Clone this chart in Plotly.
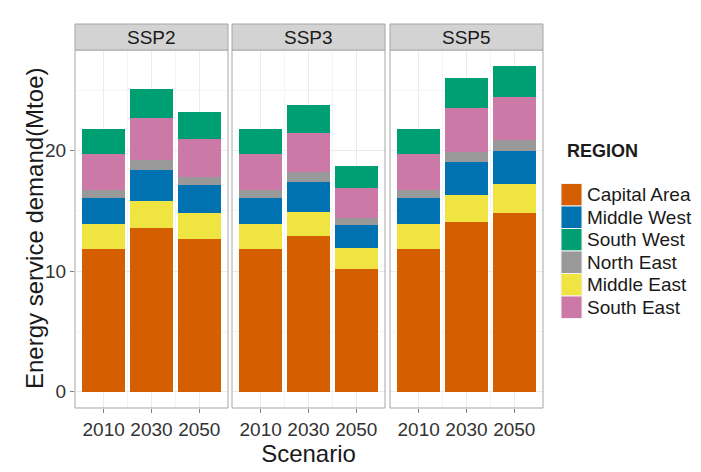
import plotly.graph_objects as go

# ---------------- data ----------------
scenarios = ["SSP2", "SSP3", "SSP5"]
years = ["2010", "2030", "2050"]

# stacking order (bottom -> top)
stack_regions = ["Capital Area", "Middle East", "Middle West", "North East", "South East", "South West"]
# legend order
legend_regions = ["Capital Area", "Middle West", "South West", "North East", "Middle East", "South East"]

# values per region: SSP2 (2010, 2030, 2050), SSP3 (...), SSP5 (...)
capital_area = [11.8, 13.6, 12.7, 11.8, 12.9, 10.2, 11.8, 14.1, 14.8]
middle_east  = [2.1, 2.2, 2.1, 2.1, 2.0, 1.7, 2.1, 2.2, 2.4]
middle_west  = [2.2, 2.6, 2.35, 2.2, 2.5, 1.95, 2.2, 2.75, 2.75]
north_east   = [0.6, 0.8, 0.7, 0.6, 0.8, 0.6, 0.6, 0.85, 0.9]
south_east   = [3.0, 3.5, 3.1, 3.0, 3.3, 2.45, 3.0, 3.6, 3.6]
south_west   = [2.1, 2.4, 2.25, 2.1, 2.25, 1.85, 2.1, 2.55, 2.6]

region_values = {
    "Capital Area": capital_area,
    "Middle East": middle_east,
    "Middle West": middle_west,
    "North East": north_east,
    "South East": south_east,
    "South West": south_west,
}

colors = {
    "Capital Area": "#D55E00",
    "Middle West": "#0072B2",
    "South West": "#009E73",
    "North East": "#999999",
    "Middle East": "#F0E442",
    "South East": "#CC79A7",
}

y_ticks = [0, 10, 20]

# ---------------- layout helpers ----------------
W, H = 701, 472
ML, MR, MT, MB = 75, 158, 24, 64
PW = W - ML - MR
PH = H - MT - MB


def px_x(px):
    return (px - ML) / PW


def px_y(py):
    return (H - MB - py) / PH


panel_px = [(75, 228), (232, 385), (390, 543)]
panel_bottom, panel_top, strip_top = 408, 50, 24
ydom = [0, px_y(panel_top)]

FONT = "Liberation Sans, Arial, sans-serif"

fig = go.Figure()
axis_names = ["x", "x2", "x3"]
for si, scen in enumerate(scenarios):
    for reg in stack_regions:
        vals = region_values[reg][si * 3:(si + 1) * 3]
        fig.add_trace(go.Bar(
            x=years, y=vals, name=reg,
            marker=dict(color=colors[reg], line=dict(width=0)),
            xaxis=axis_names[si], yaxis="y",
            showlegend=False,
            hovertemplate=scen + " %{x}<br>" + reg + ": %{y}<extra></extra>",
        ))

xcommon = dict(
    type="category", range=[-0.6, 2.6],
    showgrid=True, gridcolor="#ebebeb", gridwidth=1,
    ticks="outside", ticklen=4, tickcolor="#7f7f7f",
    tickfont=dict(family=FONT, size=19, color="#333333"),
    showline=False, zeroline=False, anchor="y", fixedrange=True,
)

layout_axes = {}
for si, name in enumerate(["xaxis", "xaxis2", "xaxis3"]):
    x0, x1 = panel_px[si]
    ax = dict(xcommon)
    ax["domain"] = [px_x(x0), px_x(x1)]
    if si == 1:
        ax["title"] = dict(text="Scenario", font=dict(family=FONT, size=24, color="#1a1a1a"), standoff=0)
    layout_axes[name] = ax

fig.update_layout(**layout_axes)
fig.update_layout(
    yaxis=dict(
        domain=ydom, range=[-1.35, 28.35], anchor="x",
        tickvals=y_ticks, ticktext=[str(v) for v in y_ticks],
        showgrid=True, gridcolor="#ebebeb", gridwidth=1,
        minor=dict(tickvals=[5, 15, 25], showgrid=True, gridcolor="#f5f5f5", ticks=""),
        ticks="outside", ticklen=4, tickcolor="#7f7f7f",
        tickfont=dict(family=FONT, size=19, color="#333333"),
        zeroline=False, showline=False, fixedrange=True,
    ),
    barmode="stack", bargap=0.1,
    width=W, height=H,
    margin=dict(l=ML, r=MR, t=MT, b=MB, autoexpand=False),
    paper_bgcolor="white", plot_bgcolor="white",
    showlegend=False,
)

shapes = []
annotations = []
for si, scen in enumerate(scenarios):
    xr = axis_names[si] + " domain"
    # minor vertical grid lines between categories
    for xm in (0.5, 1.5):
        shapes.append(dict(type="line", xref=axis_names[si], yref="y domain", x0=xm, x1=xm, y0=0, y1=1,
                           line=dict(color="#f5f5f5", width=1), layer="below"))
    # panel border
    shapes.append(dict(type="rect", xref=xr, yref="y domain", x0=0, x1=1, y0=0, y1=1,
                       line=dict(color="#a6a6a6", width=1), fillcolor="rgba(0,0,0,0)", layer="above"))
    # strip
    shapes.append(dict(type="rect", xref=xr, yref="paper", x0=0, x1=1, y0=ydom[1], y1=1,
                       line=dict(color="#a6a6a6", width=1), fillcolor="#d3d3d3", layer="above"))
    annotations.append(dict(text=scen, xref=xr, yref="paper", x=0.5, y=(ydom[1] + 1) / 2,
                            showarrow=False, xanchor="center", yanchor="middle",
                            font=dict(family=FONT, size=19, color="#1a1a1a")))

# y-axis title
annotations.append(dict(text="Energy service demand(Mtoe)", xref="paper", yref="paper",
                        x=px_x(34), y=ydom[1] / 2, textangle=-90, showarrow=False,
                        xanchor="center", yanchor="middle",
                        font=dict(family=FONT, size=24, color="#1a1a1a")))

# custom legend
annotations.append(dict(text="<b>REGION</b>", xref="paper", yref="paper", x=px_x(565), y=px_y(151),
                        showarrow=False, xanchor="left", yanchor="middle",
                        font=dict(family=FONT, size=18, color="#1a1a1a")))
key_top, key_h = 183.5, 22.5
for i, reg in enumerate(legend_regions):
    t = key_top + i * key_h
    shapes.append(dict(type="rect", xref="paper", yref="paper",
                       x0=px_x(561), x1=px_x(582), y0=px_y(t + key_h), y1=px_y(t),
                       line=dict(color="#f2f2f2", width=1), fillcolor=colors[reg]))
    annotations.append(dict(text=reg, xref="paper", yref="paper", x=px_x(585), y=px_y(t + key_h / 2),
                            showarrow=False, xanchor="left", yanchor="middle",
                            font=dict(family=FONT, size=19, color="#1a1a1a")))

fig.update_layout(shapes=shapes, annotations=annotations)
fig.write_html("out.html", config={"displayModeBar": False},
               post_script="document.body.style.margin='0';document.body.style.overflow='hidden';")
